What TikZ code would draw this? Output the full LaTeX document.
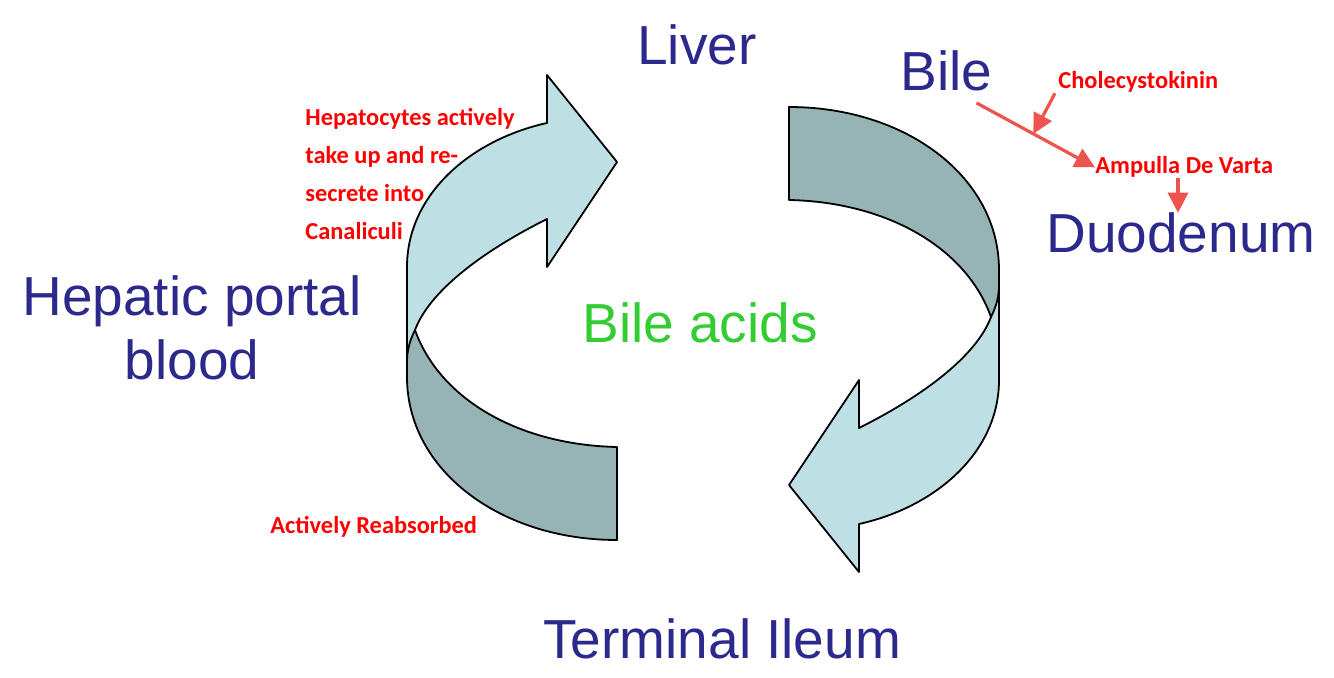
\documentclass[tikz,border=0pt]{standalone}
\usepackage{fontspec}
\setmainfont{Liberation Sans}
\newfontfamily\calfont{Carlito}
\usetikzlibrary{arrows.meta}
\definecolor{organblue}{RGB}{43,42,140}
\definecolor{acidgreen}{RGB}{51,204,51}
\definecolor{notered}{RGB}{255,0,0}
\definecolor{arrowred}{RGB}{239,83,78}
\definecolor{ribbonlight}{RGB}{190,224,228}
\definecolor{ribbondark}{RGB}{150,180,182}
\tikzset{
  organ/.style={font=\fontsize{27.5}{32}\selectfont, text=organblue, inner sep=0pt},
  note/.style={font=\calfont\bfseries\fontsize{12.2}{19}\selectfont, text=notered, inner sep=0pt},
  ribbon/.style={draw=black, line width=0.9pt, line join=round},
  redarrow/.style={draw=arrowred, line width=1.6pt, -{Triangle[length=10pt,width=10pt]}},
}
\begin{document}
\begin{tikzpicture}[x=0.5pt,y=-0.5pt]
  \useasboundingbox (0,0) rectangle (1334,678);
  % the two curved ribbons
  \foreach \turn in {0,180}{
    \begin{scope}[rotate around={\turn:(703,323.5)}]
      \draw[ribbon,fill=ribbonlight](547,75) -- (617,162) -- (547,267) -- (547,219)
        .. controls (485,250) and (430,290) .. (415,330) -- (407,377) -- (407,267)
        .. controls (407,195) and (470,140) .. (547,123) -- cycle;
      \draw[ribbon,fill=ribbondark](415,330) .. controls (409,342) and (407,352) .. (407,362)
        -- (407,377) .. controls (407,470) and (500,540) .. (617,540) -- (617,447)
        .. controls (520,445) and (440,400) .. cycle;
    \end{scope}
  }
  % organs
  \node[organ,anchor=base west] (liver) at (637,65) {Liver};
  \node[organ,anchor=base west] (bile) at (900,91) {Bile};
  \node[organ,anchor=base west] (duodenum) at (1046,253) {Duodenum};
  \node[organ,anchor=base west] (ileum) at (543,658) {Terminal Ileum};
  \node[organ,anchor=north,align=center] (portal) at (192,275) {Hepatic portal\\blood};
  \node[organ,text=acidgreen,anchor=base west] (acids) at (582,343) {Bile acids};
  % notes
  \node[note,anchor=north west,align=left] (uptake) at (305,108) {Hepatocytes actively\\take up and re-\\secrete into\\Canaliculi};
  \node[note,anchor=base west] (reabsorb) at (270,534) {Actively Reabsorbed};
  \node[note,anchor=base west] (cck) at (1058,89) {Cholecystokinin};
  \node[note,anchor=base west] (ampulla) at (1095,174) {Ampulla De Varta};
  % red arrows
  \draw[redarrow] ([xshift=-8pt,yshift=-5.5pt]bile.south east) -- coordinate[pos=0.48] (cckhit) (ampulla.west);
  \draw[redarrow] ([xshift=-1.5pt]cck.south west) -- (cckhit);
  \draw[redarrow] ([xshift=41.5pt]ampulla.south west) -- ([xshift=41.5pt]ampulla.south west |- duodenum.north);
\end{tikzpicture}
\end{document}
